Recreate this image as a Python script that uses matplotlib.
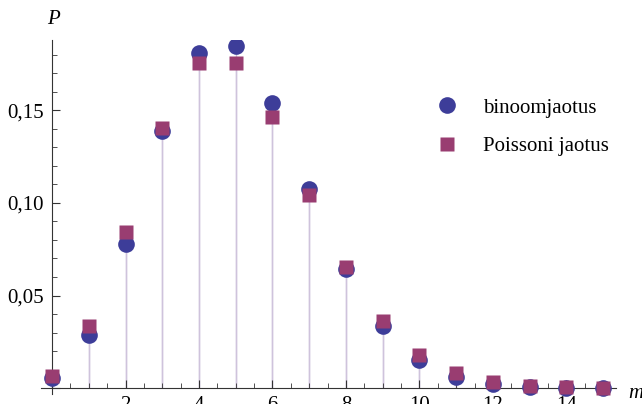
import matplotlib.pyplot as plt
from matplotlib.ticker import MultipleLocator, FuncFormatter

# m values and probabilities
m = list(range(16))
binoom = [0.0052, 0.0286, 0.0779, 0.1386, 0.1809, 0.1849, 0.1541, 0.1076,
          0.0643, 0.0333, 0.0152, 0.0061, 0.0022, 0.0007, 0.0002, 0.0000]
poisson = [0.0067, 0.0337, 0.0842, 0.1404, 0.1755, 0.1755, 0.1462, 0.1044,
           0.0653, 0.0363, 0.0181, 0.0082, 0.0034, 0.0013, 0.0005, 0.0002]
labels = ["binoomjaotus", "Poissoni jaotus"]

plt.rcParams['font.family'] = ['Liberation Serif', 'DejaVu Serif']

fig = plt.figure(figsize=(6.42, 4.04), dpi=100)
ax = fig.add_axes([0.0639, 0.0, 0.8956, 0.901])
ax.set_xlim(-0.3, 15.35)
ax.set_ylim(-0.0086, 0.188)

stem = '#cfc3dc'
ax.vlines(m, 0, binoom, color=stem, lw=1.0, zorder=1)
ax.vlines(m, 0, poisson, color=stem, lw=1.0, zorder=1)
ax.plot(m, binoom, 'o', ms=12, color='#3d3d99', mec='none', zorder=3, label=labels[0])
ax.plot(m, poisson, 's', ms=10.5, color='#993d71', mec='none', zorder=4, label=labels[1])

for s in ['top', 'right']:
    ax.spines[s].set_visible(False)
ax.spines['bottom'].set_position(('data', 0))
ax.spines['left'].set_position(('data', 0))
ax.spines['left'].set_bounds(-0.003, 0.188)
ax.spines['bottom'].set_color('#333333')
ax.spines['left'].set_color('#333333')

ax.xaxis.set_major_locator(MultipleLocator(2))
ax.xaxis.set_minor_locator(MultipleLocator(0.5))
ax.yaxis.set_major_locator(MultipleLocator(0.05))
ax.yaxis.set_minor_locator(MultipleLocator(0.01))
ax.xaxis.set_major_formatter(FuncFormatter(lambda v, p: '' if v == 0 else f'{v:.0f}'))
ax.yaxis.set_major_formatter(FuncFormatter(lambda v, p: '' if abs(v) < 1e-9 else f'{v:.2f}'.replace('.', ',')))
ax.tick_params(which='both', direction='in', colors='#333333', labelcolor='black', labelsize=15)
ax.tick_params(which='major', length=6, pad=6)
ax.tick_params(which='minor', length=3.5)

fig.text(53 / 642, 1 - 20 / 404, 'P', fontsize=15, style='italic', ha='center', va='center')
fig.text(636 / 642, 1 - 393 / 404, 'm', fontsize=15, style='italic', ha='center', va='center')

leg = ax.legend(loc='upper left', bbox_to_anchor=(437 / 642, 1 - 98 / 404),
                bbox_transform=fig.transFigure, frameon=False, fontsize=15,
                handlelength=1.0, handletextpad=1.2, labelspacing=0.9,
                borderaxespad=0, borderpad=0)

fig.savefig('out.png', dpi=100)
